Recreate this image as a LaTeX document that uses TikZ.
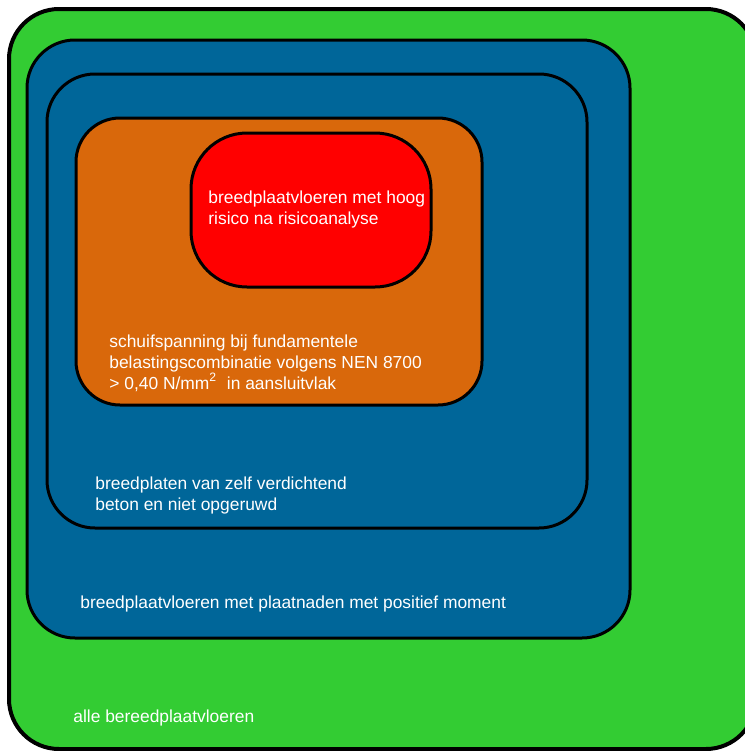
\documentclass[tikz,border=0pt]{standalone}
\usepackage{fontspec}
\setmainfont{Liberation Sans}
\usetikzlibrary{positioning}

\definecolor{allgreen}{RGB}{51,204,51}
\definecolor{seamblue}{RGB}{0,102,153}
\definecolor{shearorange}{RGB}{217,104,11}
\definecolor{riskred}{RGB}{255,0,0}

\begin{document}
\begin{tikzpicture}[x=0.5pt,y=-0.5pt]
\useasboundingbox (0,0) rectangle (745,751);
\clip (0,0) rectangle (745,751);

\begin{scope}[every path/.style={draw=black,line width=1.5pt}]
    \filldraw[fill=allgreen,line width=2pt,rounded corners=25pt] (9,9)    rectangle (756,749);
    \filldraw[fill=seamblue,rounded corners=24pt]                (27,40)  rectangle (630,638);
    \filldraw[fill=seamblue,rounded corners=24pt]                (47,74)  rectangle (587,528);
    \filldraw[fill=shearorange,rounded corners=22pt]             (76,118) rectangle (482,405);
    \filldraw[fill=riskred,rounded corners=28pt]                 (191,133) rectangle (431,287);
\end{scope}

\begin{scope}[every node/.style={text=white,align=left,anchor=west,inner sep=0pt,
              font=\fontsize{8.7pt}{10.5pt}\selectfont}]
    \node (risk)  at (208,209) {breedplaatvloeren met hoog\\risico na risicoanalyse};
    \node (shear) at (109,363) {schuifspanning bij fundamentele\\belastingscombinatie volgens NEN 8700\\> 0,40 N/mm\textsuperscript{2}\ \ in aansluitvlak};
    \node (scc)   at (95,495)  {breedplaten van zelf verdichtend\\beton en niet opgeruwd};
    \node (seams) at (80,604)  {breedplaatvloeren met plaatnaden met positief moment};
    \node (all)   at (73,718)  {alle bereedplaatvloeren};
\end{scope}
\end{tikzpicture}
\end{document}
